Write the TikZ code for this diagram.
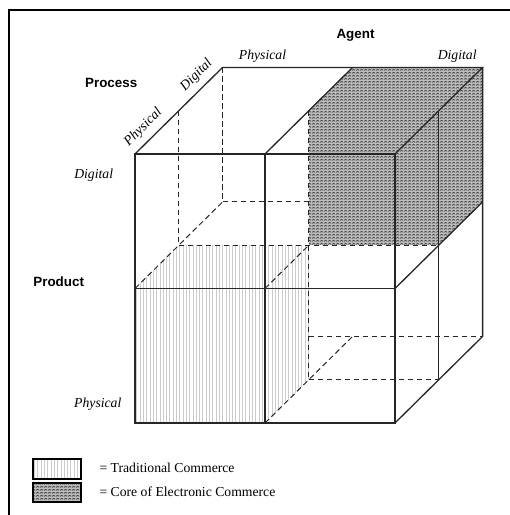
\documentclass[tikz,border=0pt]{standalone}
\usepackage{fontspec}
\setmainfont{Liberation Serif}
\setsansfont{Liberation Sans}
\usetikzlibrary{patterns}

% fine vertical stripes for traditional commerce
\pgfdeclarepatternformonly{vstripes}{\pgfpoint{0pt}{-0.5pt}}{\pgfpoint{3.3pt}{3.8pt}}{\pgfpoint{3.3pt}{3.3pt}}{
  \pgfsetlinewidth{1pt}
  \pgfpathmoveto{\pgfpoint{1.65pt}{-0.5pt}}
  \pgfpathlineto{\pgfpoint{1.65pt}{3.8pt}}
  \pgfusepath{stroke}}

% small wavy rows for electronic commerce
\pgfdeclarepatternformonly{waves}{\pgfpoint{0pt}{0pt}}{\pgfpoint{4pt}{3pt}}{\pgfpoint{4pt}{3pt}}{
  \pgfsetlinewidth{1pt}
  \pgfpathmoveto{\pgfpoint{0pt}{0.8pt}}
  \pgfpathcurveto{\pgfpoint{1pt}{0.8pt}}{\pgfpoint{1pt}{2.2pt}}{\pgfpoint{2pt}{2.2pt}}
  \pgfpathcurveto{\pgfpoint{3pt}{2.2pt}}{\pgfpoint{3pt}{0.8pt}}{\pgfpoint{4pt}{0.8pt}}
  \pgfusepath{stroke}}

\tikzset{
  edge/.style={draw=black!85, line width=1.3pt, line join=miter},
  hidden/.style={draw=black!85, line width=1pt, dash pattern=on 5.5pt off 3.5pt},
  trad/.style={pattern=vstripes, pattern color=black!20},
  core/.style={pattern=waves, pattern color=black!72},
  axis/.style={font=\fontsize{13.4}{16}\selectfont\sffamily\bfseries, inner sep=0pt, anchor=base},
  level/.style={font=\fontsize{13.7}{16}\selectfont\itshape, inner sep=0pt},
  legendbox/.style={draw=black, line width=1.8pt},
  legendtext/.style={font=\fontsize{13.7}{16}\selectfont, inner sep=0pt, anchor=base west}
}

\begin{document}
\begin{tikzpicture}[x=1pt, y=-1pt]
\useasboundingbox (0,0) rectangle (510,515);

% frame
\coordinate (fbl) at (8.7,515);
\coordinate (ftl) at (8.7,9.6);
\coordinate (ftr) at (510,9.6);
\draw[line width=1.8pt, black] (fbl) -- (ftl) -- (ftr);

% cube lattice: i = width index, j = height, k = depth
\foreach \i in {0,1,2}{
  \foreach \j in {0,1,2}{
    \foreach \k in {0,1,2}{
      \coordinate (p\i\j\k) at ({135+130*\i+43.8*\k},{423-134.5*\j-43.3*\k});
    }
  }
}
\coordinate (q1) at (p101 |- p012);
\coordinate (q2) at (p101 |- p202);

% shaded blocks
\fill[white] (p010) -- (p011) -- (p111) -- (p101) -- (p100) -- (p000) -- cycle;
\path[trad] (p010) -- (p011) -- (p111) -- (p101) -- (p100) -- (p000) -- cycle;
\fill[black!25] (p111) -- (p121) -- (p122) -- (p222) -- (p212) -- (p211) -- cycle;
\path[core] (p111) -- (p121) -- (p122) -- (p222) -- (p212) -- (p211) -- cycle;

% hidden edges
\draw[hidden] (p021) -- (p011);
\draw[hidden] (p022) -- (p012);
\draw[hidden] (p012) -- (q1);
\draw[hidden] (p010) -- (p012);
\draw[hidden] (p011) -- (p211);
\draw[hidden] (p110) -- (p111);
\draw[hidden] (p121) -- (p101);
\draw[hidden] (p100) -- (p102);
\draw[hidden] (q2) -- (p202);
\draw[hidden] (p101) -- (p201);

% visible edges
\draw[edge] (p000) -- (p200) -- (p220) -- (p020) -- cycle;
\draw[edge] (p100) -- (p120);
\draw[edge] (p010) -- (p210);
\draw[edge] (p020) -- (p022) -- (p222) -- (p220);
\draw[edge] (p120) -- (p122);
\draw[edge] (p222) -- (p202) -- (p200);
\draw[edge] (p210) -- (p212);
\draw[edge] (p221) -- (p201);

% axis names
\node[axis] (agent) at (355.5,38) {Agent};
\node[axis] (process) at (111.2,87) {Process};
\node[axis] (product) at (58.7,286.5) {Product};

% level labels
\node[level, anchor=base] (agphys) at (262.5,59.2) {Physical};
\node[level, anchor=base] (agdig) at (457.2,59.2) {Digital};
\node[level, anchor=base] (prdig) at (93.7,178.6) {Digital};
\node[level, anchor=base] (prphys) at (97.8,407.5) {Physical};
\node[level, rotate=45] (pcphys) at (143.3,127.5) {Physical};
\node[level, rotate=45] (pcdig) at (196.5,75) {Digital};

% legend
\draw[legendbox, trad] (32.7,459.3) rectangle (81,478.7);
\fill[black!25] (32.7,482.7) rectangle (81,501.9);
\draw[legendbox, core] (32.7,482.7) rectangle (81,501.9);
\node[legendtext] (lg1) at (99.3,472.6) {= Traditional Commerce};
\node[legendtext] (lg2) at (99.3,496.6) {= Core of Electronic Commerce};
\end{tikzpicture}
\end{document}
